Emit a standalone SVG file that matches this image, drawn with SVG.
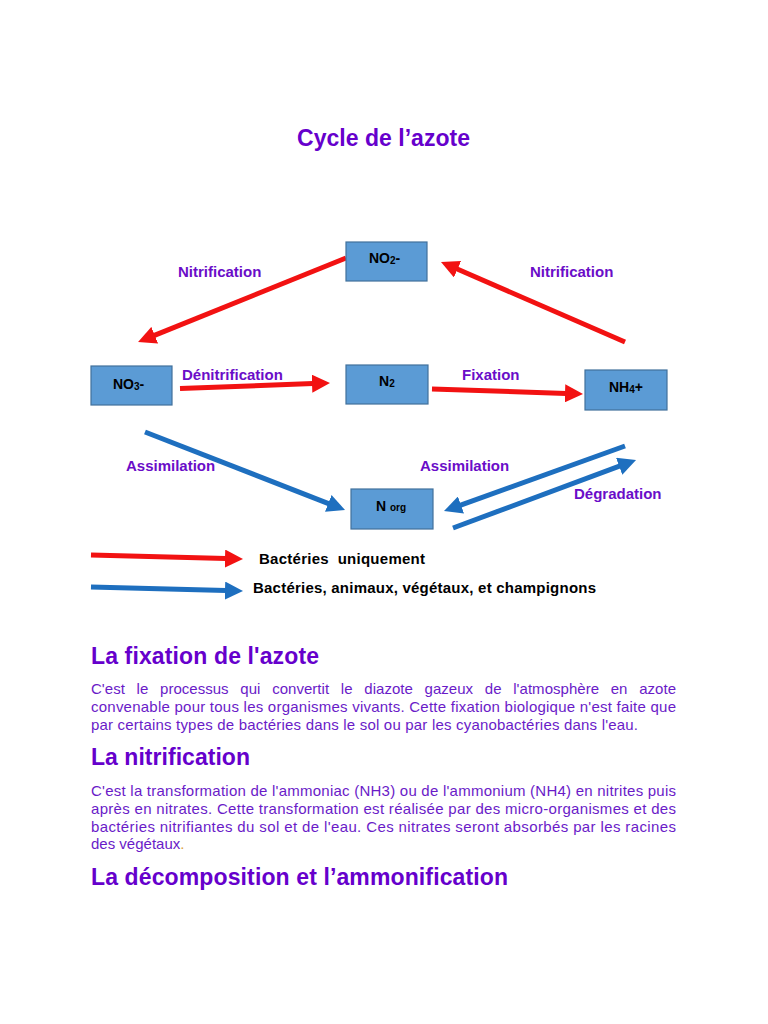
<svg xmlns="http://www.w3.org/2000/svg" width="768" height="1024" viewBox="0 0 768 1024">
<style>
.box{fill:#5B9BD5;stroke:#41719C;stroke-width:1.2}
.bt{font-family:"Liberation Sans",Arial,sans-serif;font-weight:bold;font-size:14px;fill:#000}
.lbl{font-family:"Liberation Sans",Arial,sans-serif;font-weight:bold;font-size:15px;fill:#6A0DC8}
.h{font-family:"Liberation Sans",Arial,sans-serif;font-weight:bold;font-size:23px;fill:#6600CC}
.p{font-family:"Liberation Sans",Arial,sans-serif;font-size:15px;fill:#6A1BC8}
.leg{font-family:"Liberation Sans",Arial,sans-serif;font-weight:bold;font-size:15px;fill:#000}
.red{stroke:#F21212;stroke-width:5;fill:none}
.blue{stroke:#1E6FBF;stroke-width:5;fill:none}
</style>
<defs>
<marker id="hr" markerUnits="userSpaceOnUse" viewBox="0 0 18 18" refX="1" refY="9" markerWidth="18" markerHeight="18" orient="auto"><path d="M0,0 L18,9 L0,18 z" fill="#F21212"/></marker>
<marker id="hb" markerUnits="userSpaceOnUse" viewBox="0 0 18 18" refX="1" refY="9" markerWidth="18" markerHeight="18" orient="auto"><path d="M0,0 L18,9 L0,18 z" fill="#1E6FBF"/></marker>
</defs>
<rect width="768" height="1024" fill="#fff"/>
<text class="h" x="297" y="146" textLength="173">Cycle de l’azote</text>

<g id="connectors">
<line class="red" x1="346" y1="258" x2="153.8" y2="335.6" marker-end="url(#hr)"/>
<line class="red" x1="625" y1="342" x2="456.6" y2="268.8" marker-end="url(#hr)"/>
<line class="red" x1="180" y1="388.5" x2="313" y2="383.6" marker-end="url(#hr)"/>
<line class="red" x1="432" y1="389" x2="566" y2="393.4" marker-end="url(#hr)"/>
<line class="blue" x1="145" y1="432" x2="329.2" y2="503.8" marker-end="url(#hb)"/>
<line class="blue" x1="625" y1="446" x2="460" y2="505.3" marker-end="url(#hb)"/>
<line class="blue" x1="453" y1="528" x2="620.1" y2="465.9" marker-end="url(#hb)"/>
<text class="lbl" x="178" y="277">Nitrification</text>
<text class="lbl" x="530" y="277">Nitrification</text>
<text class="lbl" x="182" y="380">Dénitrification</text>
<text class="lbl" x="462" y="380">Fixation</text>
<text class="lbl" x="126" y="471">Assimilation</text>
<text class="lbl" x="420" y="471">Assimilation</text>
<text class="lbl" x="574" y="499">Dégradation</text>
</g>

<g id="no2"><rect class="box" x="346" y="242" width="81" height="39"/><text class="bt" x="369" y="263">NO<tspan font-size="10" dy="1">2</tspan><tspan dy="-1">-</tspan></text></g>
<g id="no3"><rect class="box" x="91" y="366" width="81" height="39"/><text class="bt" x="113" y="389">NO<tspan font-size="10" dy="1">3</tspan><tspan dy="-1">-</tspan></text></g>
<g id="n2"><rect class="box" x="346" y="365" width="82" height="39"/><text class="bt" x="379" y="386">N<tspan font-size="10" dy="1">2</tspan></text></g>
<g id="nh4"><rect class="box" x="585" y="370" width="82" height="40"/><text class="bt" x="609" y="392">NH<tspan font-size="10" dy="1">4</tspan><tspan dy="-1">+</tspan></text></g>
<g id="norg"><rect class="box" x="351" y="489" width="82" height="40"/><text class="bt" x="376" y="511">N <tspan font-size="10">org</tspan></text></g>

<g id="legend">
<line class="red" x1="91" y1="555" x2="226" y2="558.6" marker-end="url(#hr)"/>
<line class="blue" x1="91" y1="587" x2="226" y2="590.6" marker-end="url(#hb)"/>
<text class="leg" x="259" y="564" xml:space="preserve" textLength="166">Bactéries  uniquement</text>
<text class="leg" x="253" y="593" textLength="343">Bactéries, animaux, végétaux, et champignons</text>
</g>

<text class="h" x="91" y="664" textLength="228">La fixation de l'azote</text>
<text class="p" x="91" y="694" word-spacing="7.5" textLength="585" lengthAdjust="spacing">C'est le processus qui convertit le diazote gazeux de l'atmosphère en azote</text>
<text class="p" x="91" y="712" textLength="585" lengthAdjust="spacing">convenable pour tous les organismes vivants. Cette fixation biologique n'est faite que</text>
<text class="p" x="91" y="730" textLength="547" lengthAdjust="spacing">par certains types de bactéries dans le sol ou par les cyanobactéries dans l'eau.</text>

<text class="h" x="91" y="765" textLength="159">La nitrification</text>
<text class="p" x="91" y="796" textLength="585" lengthAdjust="spacing">C'est la transformation de l'ammoniac (NH3) ou de l'ammonium (NH4) en nitrites puis</text>
<text class="p" x="91" y="814" textLength="585" lengthAdjust="spacing">après en nitrates. Cette transformation est réalisée par des micro-organismes et des</text>
<text class="p" x="91" y="832" textLength="585" lengthAdjust="spacing">bactéries nitrifiantes du sol et de l'eau. Ces nitrates seront absorbés par les racines</text>
<text class="p" x="91" y="849">des végétaux<tspan fill="#E0A040">.</tspan></text>

<text class="h" x="91" y="885" textLength="417">La décomposition et l’ammonification</text>
</svg>
